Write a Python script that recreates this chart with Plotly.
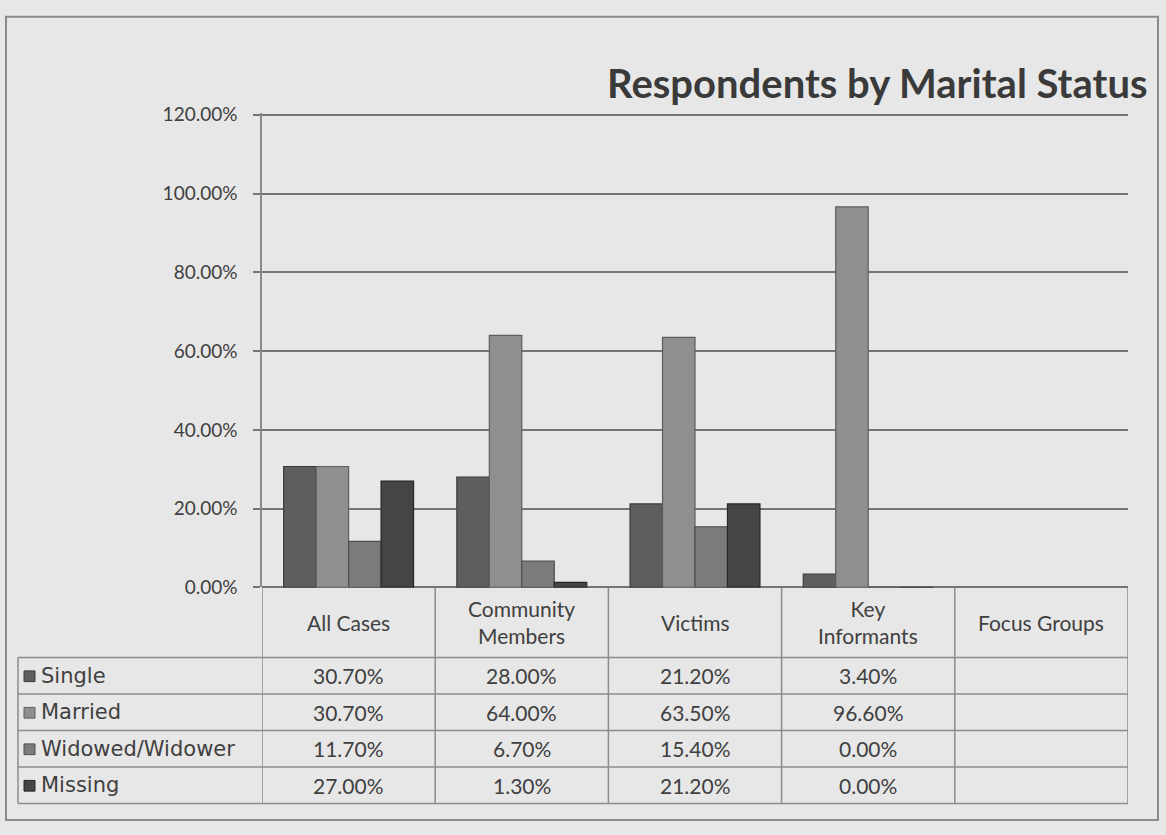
import plotly.graph_objects as go

# Respondents by marital status, per respondent group (percent)
categories = ["All Cases", "Community Members", "Victims", "Key Informants", "Focus Groups"]
header_labels = ["All Cases", "Community<br>Members", "Victims", "Key<br>Informants", "Focus Groups"]
series_names = ["Single", "Married", "Widowed/Widower", "Missing"]
single = [30.7, 28.0, 21.2, 3.4, None]
married = [30.7, 64.0, 63.5, 96.6, None]
widowed = [11.7, 6.7, 15.4, 0.0, None]
missing = [27.0, 1.3, 21.2, 0.0, None]
y_ticks = [0, 20, 40, 60, 80, 100, 120]

series_values = [single, married, widowed, missing]
series_colors = ["#5e5e5e", "#8f8f8f", "#7b7b7b", "#454545"]
edge_colors = ["#3a3a3a", "#5e5e5e", "#4e4e4e", "#262626"]

W, H = 1166, 835
FONT = "Lato, 'Open Sans', sans-serif"
WIDE_FONT = "'DejaVu Sans', Verdana, sans-serif"
TEXT = "#404040"
GRID = "#747474"
CELL_LINE = "#8c8c8c"


def px(x):
    return x / W


def py(y):
    return 1 - y / H


# pixel geometry of the chart
plot_left, plot_right = 262, 1128
y_zero, y_top = 592, 105
table_left = 18
header_bottom = 664
row_h = 37.5

fig = go.Figure()
for name, vals, col, edge in zip(series_names, series_values, series_colors, edge_colors):
    fig.add_trace(go.Bar(
        x=categories, y=vals, name=name,
        marker=dict(color=col, line=dict(color=edge, width=1.2)),
        hoverinfo="x+y+name",
    ))

shapes = []
annotations = []

# outer chart frame
shapes.append(dict(type="rect", xref="paper", yref="paper",
                   x0=px(6), x1=px(1158), y0=py(831), y1=py(6),
                   line=dict(color="#8a8a8a", width=2), fillcolor="rgba(0,0,0,0)", layer="below"))

# header row: vertical separators at category boundaries
n = len(categories)
table_bottom = header_bottom + 4 * row_h
for i in range(n + 1):
    shapes.append(dict(type="line", xref="x", yref="paper",
                       x0=i - 0.5, x1=i - 0.5, y0=py(y_zero), y1=py(table_bottom),
                       line=dict(color=CELL_LINE, width=1.5)))
# data rows: horizontal lines
for r in range(5):
    yy = header_bottom + r * row_h
    shapes.append(dict(type="line", xref="paper", yref="paper",
                       x0=px(table_left), x1=px(plot_right), y0=py(yy), y1=py(yy),
                       line=dict(color=CELL_LINE, width=1.5)))
# left edge of legend column
shapes.append(dict(type="line", xref="paper", yref="paper",
                   x0=px(table_left), x1=px(table_left),
                   y0=py(header_bottom), y1=py(table_bottom),
                   line=dict(color=CELL_LINE, width=1.5)))

# header texts
for i, lab in enumerate(header_labels):
    annotations.append(dict(x=i, y=py((y_zero + header_bottom) / 2), xref="x", yref="paper",
                            text=lab, showarrow=False, xanchor="center", yanchor="middle",
                            font=dict(family=FONT, size=21, color=TEXT), align="center"))

# row labels with legend keys and cell values
for r, (name, vals, col) in enumerate(zip(series_names, series_values, series_colors)):
    yc = header_bottom + r * row_h + row_h / 2
    shapes.append(dict(type="rect", xref="paper", yref="paper",
                       x0=px(table_left + 6), x1=px(table_left + 17),
                       y0=py(yc + 6), y1=py(yc - 5),
                       fillcolor=col, line=dict(color=edge_colors[r], width=1)))
    annotations.append(dict(x=px(table_left + 21), y=py(yc), xref="paper", yref="paper",
                            text=name, showarrow=False, xanchor="left", yanchor="middle",
                            font=dict(family=WIDE_FONT, size=21, color=TEXT)))
    for i, v in enumerate(vals):
        if v is None:
            continue
        annotations.append(dict(x=i, y=py(yc), xref="x", yref="paper",
                                text=f"{v:.2f}%", showarrow=False, xanchor="center", yanchor="middle",
                                font=dict(family=FONT, size=21, color=TEXT)))

# chart title
annotations.append(dict(x=px(1150), y=py(74), xref="paper", yref="paper",
                        text="<b>Respondents by Marital Status</b>", showarrow=False,
                        xanchor="right", yanchor="middle",
                        font=dict(family=FONT, size=40, color="#3a3a3a")))

fig.update_layout(
    width=W, height=H,
    margin=dict(l=0, r=0, t=0, b=0),
    paper_bgcolor="#e7e7e7",
    plot_bgcolor="rgba(0,0,0,0)",
    barmode="group",
    bargap=0.25,
    bargroupgap=0,
    showlegend=False,
    font=dict(family=FONT, color=TEXT),
    xaxis=dict(domain=[px(plot_left), px(plot_right)], range=[-0.5, n - 0.5],
               showticklabels=False, showgrid=False, zeroline=False, ticks="",
               fixedrange=True),
    yaxis=dict(domain=[py(y_zero), py(y_top)], range=[0, 120.4],
               tickvals=y_ticks, ticktext=[f"{t:.2f}%" for t in y_ticks],
               showgrid=True, gridcolor=GRID, gridwidth=1.5,
               zeroline=True, zerolinecolor=GRID, zerolinewidth=1.5,
               showline=True, linecolor="#8a8a8a", linewidth=1.5,
               ticks="outside", ticklen=7, tickcolor=GRID, tickwidth=1.5,
               ticklabelstandoff=12,
               tickfont=dict(family=FONT, size=19, color=TEXT),
               fixedrange=True),
    shapes=shapes,
    annotations=annotations,
)

fig.write_html("out.html")
